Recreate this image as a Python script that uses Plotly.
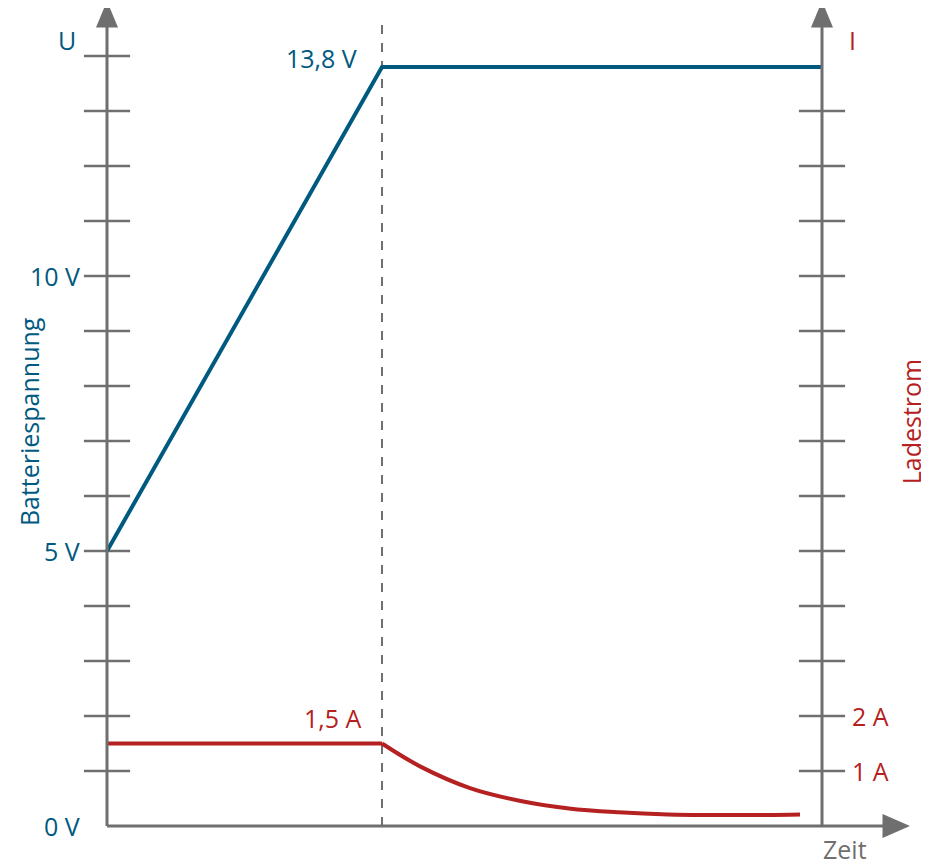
import plotly.graph_objects as go

# Zeitachse in willkuerlichen Einheiten (Knick bei t=5, rechte Achse bei t=13)
t_knee = 5
t_end = 13

# Batteriespannung (V)
t_u = [0, t_knee, t_end]
u_vals = [5, 13.8, 13.8]

# Ladestrom (A): konstant bis zum Knick, danach Abfall
t_i_flat = [0, t_knee]
i_flat = [1.5, 1.5]
t_i_decay = [5, 5.7, 6.6, 7.5, 8.4, 9.3, 10.2, 11.2, 12.0, 12.6]
i_decay = [1.5, 1.08, 0.69, 0.46, 0.32, 0.25, 0.21, 0.2, 0.2, 0.21]

u_ticks = list(range(1, 15))
i_ticks = list(range(1, 14))
u_labels = {0: "0 V", 5: "5 V", 10: "10 V"}
i_labels = {1: "1 A", 2: "2 A"}

blue = "#00597f"
red = "#b52121"
gray = "#6f6f6f"
font = "Open Sans"
fs = 25

fig = go.Figure()

# tick marks crossing the axes
fig.add_trace(go.Scatter(x=[0] * len(u_ticks), y=u_ticks, mode="markers",
                         marker=dict(symbol="line-ew", size=33,
                                     line=dict(width=2.5, color=gray)),
                         hoverinfo="skip", showlegend=False))
fig.add_trace(go.Scatter(x=[t_end] * len(i_ticks), y=i_ticks, mode="markers",
                         marker=dict(symbol="line-ew", size=33,
                                     line=dict(width=2.5, color=gray)),
                         hoverinfo="skip", showlegend=False))

fig.add_trace(go.Scatter(x=t_u, y=u_vals, mode="lines",
                         line=dict(color=blue, width=4), showlegend=False))
fig.add_trace(go.Scatter(x=t_i_flat, y=i_flat, mode="lines",
                         line=dict(color=red, width=4), showlegend=False))
fig.add_trace(go.Scatter(x=t_i_decay, y=i_decay, mode="lines",
                         line=dict(color=red, width=4, shape="spline", smoothing=1),
                         showlegend=False))

shapes = [
    # axes
    dict(type="line", x0=0, y0=0, x1=0, y1=14.7, line=dict(color=gray, width=3)),
    dict(type="line", x0=t_end, y0=0, x1=t_end, y1=14.7, line=dict(color=gray, width=3)),
    dict(type="line", x0=0, y0=0, x1=14.3, y1=0, line=dict(color=gray, width=3)),
    # arrow heads
    dict(type="path", path="M -0.2 14.52 L 0 15.0 L 0.2 14.52 Z",
         fillcolor=gray, line=dict(width=0)),
    dict(type="path", path="M 12.8 14.52 L 13 15.0 L 13.2 14.52 Z",
         fillcolor=gray, line=dict(width=0)),
    dict(type="path", path="M 14.1 0.22 L 14.6 0 L 14.1 -0.22 Z",
         fillcolor=gray, line=dict(width=0)),
    # Knick
    dict(type="line", x0=t_knee, y0=0, x1=t_knee, y1=14.6,
         line=dict(color=gray, width=2, dash="dash"), layer="below"),
]

ann = []
for v, txt in u_labels.items():
    ann.append(dict(x=-0.45, y=v, text=txt, xanchor="right", yanchor="middle",
                    showarrow=False, font=dict(color=blue, size=fs, family=font)))
for v, txt in i_labels.items():
    ann.append(dict(x=13.51, y=v, text=txt, xanchor="left", yanchor="middle",
                    showarrow=False, font=dict(color=red, size=fs, family=font)))
ann += [
    dict(x=-0.73, y=14.29, text="U", showarrow=False,
         font=dict(color=blue, size=fs, family=font)),
    dict(x=13.56, y=14.29, text="I", showarrow=False,
         font=dict(color=red, size=fs, family=font)),
    dict(x=t_knee - 0.42, y=u_vals[1] + 0.17, text="13,8 V", xanchor="right",
         showarrow=False, font=dict(color=blue, size=fs, family=font)),
    dict(x=t_knee - 0.33, y=i_flat[0] + 0.47, text="1,5 A", xanchor="right",
         showarrow=False, font=dict(color=red, size=fs, family=font)),
    dict(x=13.42, y=-0.42, text="Zeit", showarrow=False,
         font=dict(color=gray, size=fs, family=font)),
    dict(x=-1.42, y=7.36, text="Batteriespannung", textangle=-90, showarrow=False,
         font=dict(color=blue, size=fs, family=font)),
    dict(x=14.62, y=7.36, text="Ladestrom", textangle=-90, showarrow=False,
         font=dict(color=red, size=fs, family=font)),
]

# the page puts the plot 8 px in from the corner, so the ranges are shifted by 8 px
fig.update_layout(
    width=929, height=867, autosize=False,
    margin=dict(l=0, r=0, t=0, b=0),
    paper_bgcolor="white", plot_bgcolor="white",
    xaxis=dict(range=[-99 / 55, 830 / 55], visible=False, fixedrange=True),
    yaxis=dict(range=[-49 / 55, 818 / 55], visible=False, fixedrange=True),
    shapes=shapes, annotations=ann,
)

fig.write_html("out.html")
